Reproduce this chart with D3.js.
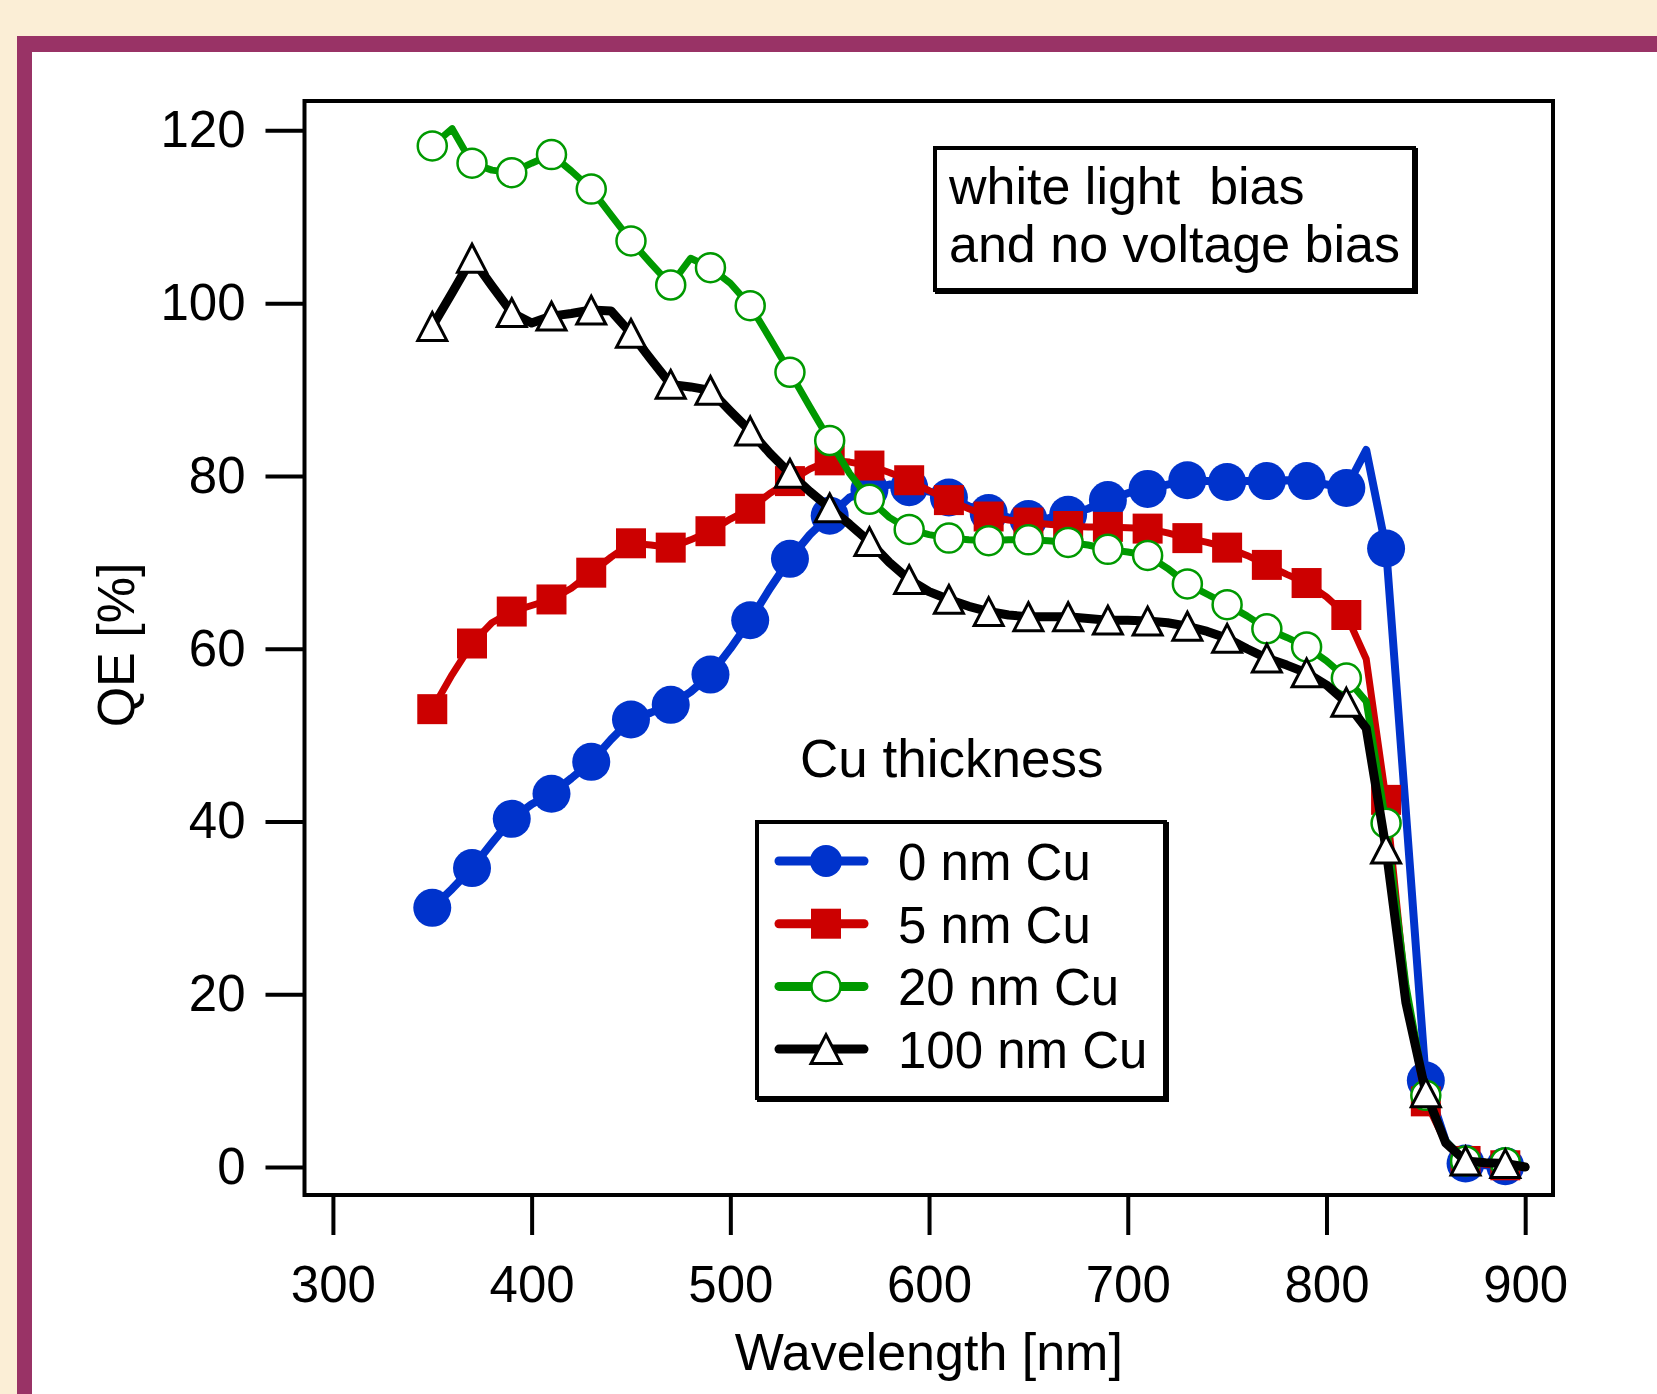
<!DOCTYPE html>
<html>
<head>
<meta charset="utf-8">
<script src="https://cdn.jsdelivr.net/npm/d3@7"></script>
<style>
  body { margin: 0; background: #fbeed6; }
  svg { display: block; font-family: "Liberation Sans", Arial, sans-serif; }
</style>
</head>
<body>
<svg id="chart" width="1657" height="1394"></svg>
<script>
// ---------------- data ----------------
const wavelengths = [350,360,370,380,390,400,410,420,430,440,450,460,470,480,490,500,510,520,530,540,
  550,560,570,580,590,600,610,620,630,640,650,660,670,680,690,700,710,720,730,740,
  750,760,770,780,790,800,810,820,830,840,850,860,870,880,890,900];

const qe0nm = [30.0,32.2,34.6,37.5,40.3,42.0,43.2,45.0,46.9,49.5,51.8,52.6,53.5,55.0,57.0,60.0,63.3,67.0,70.4,73.2,
  75.4,77.5,78.4,79.0,78.7,78.2,77.5,76.5,75.7,75.2,75.0,75.1,75.5,76.2,77.2,78.0,78.5,79.0,79.5,79.4,
  79.3,79.4,79.4,79.5,79.4,79.0,78.6,83.0,71.6,41.0,10.0,3.0,0.4,0.2,0.1,0.0];

const qe5nm = [53.0,57.0,60.6,63.0,64.3,65.0,65.7,67.0,68.8,70.6,72.2,72.0,71.7,72.6,73.6,75.0,76.2,78.0,79.4,80.8,
  81.8,81.6,81.2,80.4,79.5,78.3,77.2,76.2,75.3,74.9,74.6,74.4,74.2,74.1,74.1,74.0,73.9,73.4,72.8,72.3,
  71.7,70.8,69.7,68.6,67.6,66.0,63.9,58.8,42.5,20.0,7.6,2.8,0.7,0.3,0.2,0.0];

const qe20nm = [118.2,120.2,116.2,115.4,115.1,116.2,117.2,115.3,113.2,110.2,107.2,104.6,102.1,105.2,104.1,102.3,99.7,95.9,92.0,88.0,
  84.1,80.3,77.3,75.2,73.8,73.2,72.8,72.6,72.5,72.6,72.6,72.5,72.3,72.0,71.5,71.2,70.8,69.3,67.5,66.3,
  65.1,63.8,62.3,61.3,60.2,58.6,56.6,53.9,39.8,21.0,8.3,3.0,0.7,0.5,0.5,0.0];

const qe100nm = [97.3,101.2,105.2,102.0,98.9,97.7,98.5,98.8,99.2,99.1,96.5,93.5,90.6,90.3,89.9,87.5,85.2,82.6,80.3,78.2,
  76.3,74.4,72.4,70.0,68.0,66.6,65.7,64.9,64.3,63.9,63.7,63.7,63.7,63.5,63.3,63.3,63.2,63.0,62.6,62.0,
  61.2,60.0,58.9,58.1,57.2,55.8,53.8,50.8,36.8,19.0,8.6,2.8,0.7,0.5,0.4,0.0];

const seriesNames = ["0 nm Cu", "5 nm Cu", "20 nm Cu", "100 nm Cu"];
const markerWavelengths = [350,370,390,410,430,450,470,490,510,530,550,570,590,610,630,650,670,690,710,730,750,770,790,810,830,850,870,890];
const xTicks = [300, 400, 500, 600, 700, 800, 900];
const yTicks = [0, 20, 40, 60, 80, 100, 120];
const xTitle = "Wavelength [nm]";
const yTitle = "QE [%]";
const legendTitle = "Cu thickness";
const noteLines = ["white light  bias", "and no voltage bias"];

// ---------------- styles ----------------
const styles = [
  { color: "#0033cc", width: 8, marker: "disc",   size: 19, legendSize: 16 },
  { color: "#cc0000", width: 7, marker: "square", size: 30, legendSize: 30 },
  { color: "#009900", width: 7, marker: "ring",   size: 14.5, legendSize: 14.5 },
  { color: "#000000", width: 9, marker: "tri",    size: 29, legendSize: 30 }
];
const seriesValues = [qe0nm, qe5nm, qe20nm, qe100nm];

const FONT = "'Liberation Sans', Arial, sans-serif";
const svg = d3.select("#chart");

// page background and panel
svg.append("rect").attr("width", 1657).attr("height", 1394).attr("fill", "#fbeed6");
svg.append("rect").attr("x", 17).attr("y", 36).attr("width", 1700).attr("height", 1420).attr("fill", "#993366");
svg.append("rect").attr("x", 32).attr("y", 52).attr("width", 1700).attr("height", 1420).attr("fill", "#ffffff");

// scales
const x = d3.scaleLinear().domain([285.7, 914]).range([304.5, 1553]);
const y = d3.scaleLinear().domain([-3.24, 123.4]).range([1195, 101]);

// axes
const styleAxis = g => {
  g.select(".domain").remove();
  g.selectAll(".tick line").attr("stroke", "#000").attr("stroke-width", 4);
  g.selectAll(".tick text").attr("fill", "#000");
  g.attr("font-size", 51).attr("font-family", FONT);
};
svg.append("g")
  .attr("transform", `translate(${x.range()[0]},0)`)
  .call(d3.axisLeft(y).tickValues(yTicks).tickSize(39).tickPadding(20).tickFormat(d3.format("d")))
  .call(styleAxis);
svg.append("g")
  .attr("transform", `translate(0,${y.range()[0]})`)
  .call(d3.axisBottom(x).tickValues(xTicks).tickSize(40).tickPadding(31).tickFormat(d3.format("d")))
  .call(styleAxis);

// frame
svg.append("rect")
  .attr("x", x.range()[0]).attr("y", y.range()[1])
  .attr("width", x.range()[1] - x.range()[0]).attr("height", y.range()[0] - y.range()[1])
  .attr("fill", "none").attr("stroke", "#000").attr("stroke-width", 4);

// titles
svg.append("text").attr("x", (x.range()[0] + x.range()[1]) / 2).attr("y", 1370)
  .attr("text-anchor", "middle").attr("font-size", 52).attr("font-family", FONT).text(xTitle);
svg.append("text").attr("transform", "translate(134,645) rotate(-90)")
  .attr("text-anchor", "middle").attr("font-size", 52).attr("font-family", FONT).text(yTitle);

// marker drawing
function triType(w, h) {
  return { draw(ctx) { ctx.moveTo(0, -h / 2); ctx.lineTo(w / 2, h / 2); ctx.lineTo(-w / 2, h / 2); ctx.closePath(); } };
}
function drawMarker(sel, st, size) {
  if (st.marker === "disc") {
    sel.append("path").attr("d", d3.symbol(d3.symbolCircle, Math.PI * size * size)())
      .attr("fill", st.color);
  } else if (st.marker === "square") {
    sel.append("path").attr("d", d3.symbol(d3.symbolSquare, size * size)())
      .attr("fill", st.color);
  } else if (st.marker === "ring") {
    sel.append("path").attr("d", d3.symbol(d3.symbolCircle, Math.PI * size * size)())
      .attr("fill", "#fff").attr("stroke", st.color).attr("stroke-width", 2.5);
  } else {
    sel.append("path").attr("d", d3.symbol(triType(size, size * 0.96))())
      .attr("fill", "#fff").attr("stroke", "#000").attr("stroke-width", 3).attr("stroke-linejoin", "miter");
  }
}

const line = d3.line().x(d => x(d[0])).y(d => y(d[1]));
seriesValues.forEach((vals, i) => {
  const st = styles[i];
  const pts = wavelengths.map((w, k) => [w, vals[k]]);
  const g = svg.append("g");
  g.append("path").datum(pts).attr("d", line)
    .attr("fill", "none").attr("stroke", st.color).attr("stroke-width", st.width)
    .attr("stroke-linejoin", "round").attr("stroke-linecap", "round");
  const mk = pts.filter(p => markerWavelengths.includes(p[0]));
  g.selectAll("g.m").data(mk).join("g").attr("class", "m")
    .attr("transform", d => `translate(${x(d[0])},${y(d[1])})`)
    .each(function () { drawMarker(d3.select(this), st, st.size); });
});

// annotation box
function boxWithShadow(x0, y0, w, h) {
  svg.append("rect").attr("x", x0 + 2).attr("y", y0 + 2).attr("width", w).attr("height", h)
    .attr("fill", "none").attr("stroke", "#000").attr("stroke-width", 4);
  svg.append("rect").attr("x", x0).attr("y", y0).attr("width", w).attr("height", h)
    .attr("fill", "#fff").attr("stroke", "#000").attr("stroke-width", 4);
}
boxWithShadow(935, 148, 479, 142);
noteLines.forEach((t, i) => {
  svg.append("text").attr("x", 949).attr("y", 204 + i * 58)
    .attr("font-size", 52).attr("font-family", FONT).style("white-space", "pre").text(t);
});

// legend
svg.append("text").attr("x", 800).attr("y", 777).attr("font-size", 53).attr("font-family", FONT).text(legendTitle);
boxWithShadow(757, 822, 408, 276);
seriesNames.forEach((name, i) => {
  const st = styles[i];
  const cy = 861 + i * 62.7;
  const g = svg.append("g").attr("transform", `translate(0,${cy})`);
  g.append("line").attr("x1", 779).attr("x2", 864).attr("y1", 0).attr("y2", 0)
    .attr("stroke", st.color).attr("stroke-width", 9).attr("stroke-linecap", "round");
  const m = g.append("g").attr("transform", "translate(826,0)");
  drawMarker(m, st, st.legendSize);
  g.append("text").attr("x", 898).attr("y", 19).attr("font-size", 51).attr("font-family", FONT).text(name);
});
</script>
</body>
</html>
